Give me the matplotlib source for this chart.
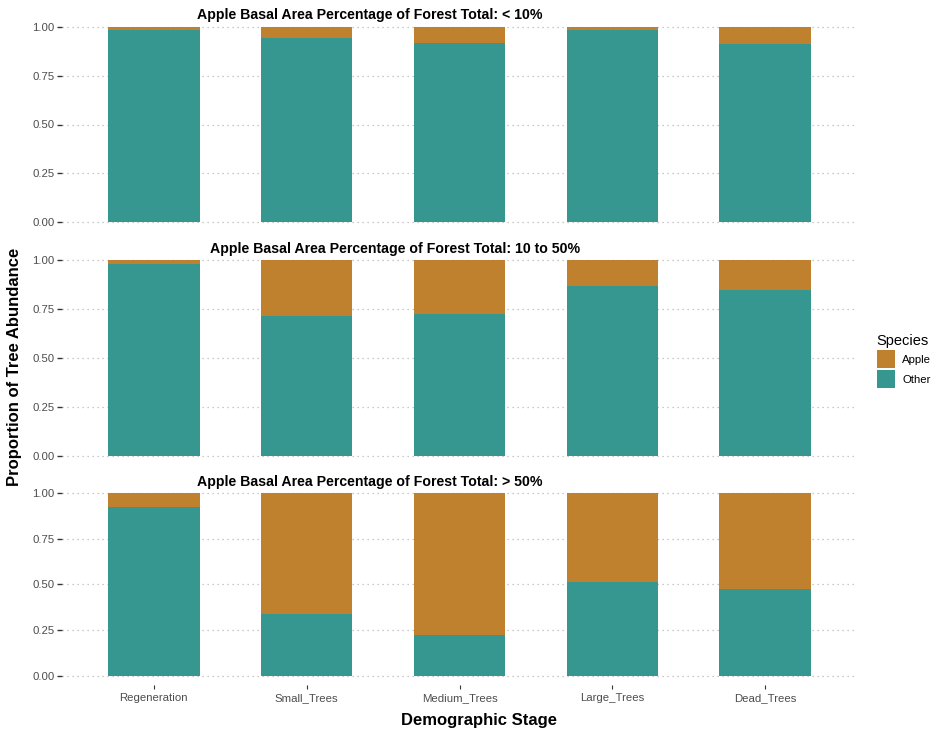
import matplotlib
matplotlib.use("Agg")
import matplotlib.pyplot as plt
import matplotlib.patches as mpatches
import numpy as np

plt.rcParams['font.family'] = ['Liberation Sans', 'DejaVu Sans']

stages = ['Regeneration', 'Small_Trees', 'Medium_Trees', 'Large_Trees', 'Dead_Trees']
panel_titles = ['Apple Basal Area Percentage of Forest Total: < 10%',
                'Apple Basal Area Percentage of Forest Total: 10 to 50%',
                'Apple Basal Area Percentage of Forest Total: > 50%']

# proportion of tree abundance, per stage
other_lt10 = [0.986, 0.944, 0.918, 0.986, 0.913]
apple_lt10 = [0.014, 0.056, 0.082, 0.014, 0.087]

other_10_50 = [0.976, 0.713, 0.724, 0.866, 0.845]
apple_10_50 = [0.024, 0.287, 0.276, 0.134, 0.155]

other_gt50 = [0.924, 0.340, 0.224, 0.513, 0.473]
apple_gt50 = [0.076, 0.660, 0.776, 0.487, 0.527]

col_apple = '#BF812D'
col_other = '#35978F'
W, H = 933, 730

fig = plt.figure(figsize=(W / 100, H / 100), dpi=100)

# axes boxes in pixels: (top, bottom) of panel incl. 5% expansion
left_px, right_px = 62, 857
boxes = [(17.25, 231.75), (249.9, 465.5), (483.5, 685.2)]
title_pos = [(370, 15), (395, 249), (370, 482)]

panels = [(other_lt10, apple_lt10), (other_10_50, apple_10_50), (other_gt50, apple_gt50)]
x = np.arange(1, len(stages) + 1)

for i, ((other, apple), (top, bot)) in enumerate(zip(panels, boxes)):
    ax = fig.add_axes([left_px / W, 1 - bot / H, (right_px - left_px) / W, (bot - top) / H])
    ax.bar(x, other, 0.6, color=col_other, zorder=2)
    ax.bar(x, apple, 0.6, bottom=other, color=col_apple, zorder=2)
    ax.set_xlim(0.4, 5.6)
    ax.set_ylim(-0.05, 1.05)
    ax.set_yticks([0, 0.25, 0.5, 0.75, 1.0])
    ax.set_yticklabels(['0.00', '0.25', '0.50', '0.75', '1.00'])
    ax.yaxis.grid(True, linestyle=(0, (1, 3)), color='#b8b8b8', linewidth=0.9, zorder=0)
    ax.set_axisbelow(True)
    for s in ax.spines.values():
        s.set_visible(False)
    ax.tick_params(axis='y', length=3.5, width=1, color='#333333',
                   labelsize=8.2, labelcolor='#4d4d4d', pad=2)
    ax.set_xticks(x)
    if i == 2:
        ax.set_xticklabels(stages)
        ax.tick_params(axis='x', length=3, width=0.8, color='#333333',
                       labelsize=8.2, labelcolor='#4d4d4d', pad=8.2)
        for lab in ax.get_xticklabels():
            lab.set_va('baseline')
    else:
        ax.set_xticklabels([])
        ax.tick_params(axis='x', length=0)
    tx, ty = title_pos[i]
    fig.text(tx / W, 1 - ty / H, panel_titles[i], ha='center', va='center',
             fontsize=10.2, fontweight='bold', color='black')

fig.text(479 / W, 1 - 721 / H, 'Demographic Stage', ha='center', va='center',
         fontsize=12, fontweight='bold')
fig.text(15 / W, 1 - 367 / H, 'Proportion of Tree Abundance', ha='center', va='center',
         rotation=90, fontsize=12, fontweight='bold')

# legend
handles = [mpatches.Patch(facecolor=col_apple, label='Apple'),
           mpatches.Patch(facecolor=col_other, label='Other')]
fig.legend(handles=handles, title='Species', loc='upper left',
           bbox_to_anchor=(871 / W, 1 - 328 / H), frameon=False, borderpad=0,
           fontsize=8.2, title_fontsize=10.5, handlelength=1.6, handleheight=2.06,
           handletextpad=0.65, labelspacing=0.2, alignment='left')

fig.savefig('out.png', dpi=100)
